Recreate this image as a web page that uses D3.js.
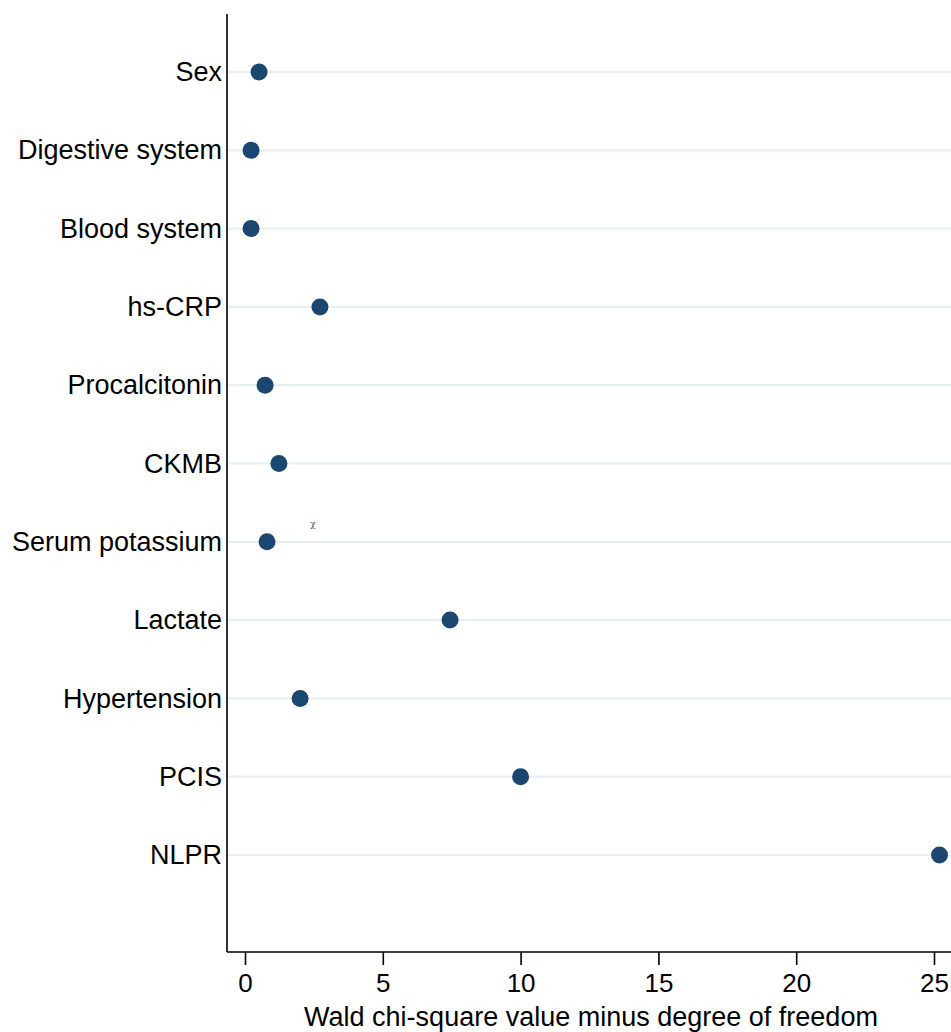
<!DOCTYPE html>
<html>
<head>
<meta charset="utf-8">
<script src="https://cdn.jsdelivr.net/npm/d3@7"></script>
<style>
  body { margin: 0; background: #fff; }
  svg { display: block; }
</style>
</head>
<body>
<div id="chart"></div>
<script>
const categories = [
  "Sex", "Digestive system", "Blood system", "hs-CRP", "Procalcitonin",
  "CKMB", "Serum potassium", "Lactate", "Hypertension", "PCIS", "NLPR"
];
const values = [0.51, 0.22, 0.22, 2.72, 0.73, 1.23, 0.8, 7.44, 2.0, 10.0, 25.2];
const xTicks = [0, 5, 10, 15, 20, 25];
const xTitle = "Wald chi-square value minus degree of freedom";

const W = 951, H = 1032;
const plotLeft = 227, plotTop = 14, plotBottom = 952;

const svg = d3.select("#chart").append("svg")
  .attr("width", W).attr("height", H);

const x = d3.scaleLinear().domain([0, 25]).range([245, 934]);
const y = d3.scalePoint().domain(categories).range([72, 855]);

// grid lines
svg.append("g").selectAll("line")
  .data(categories).enter().append("line")
  .attr("x1", plotLeft).attr("x2", W)
  .attr("y1", d => y(d)).attr("y2", d => y(d))
  .attr("stroke", "#e8f0f2").attr("stroke-width", 2.2);

// y axis
const yAxis = svg.append("g")
  .attr("transform", "translate(" + plotLeft + ",0)")
  .call(d3.axisLeft(y).tickSize(0).tickPadding(5));
yAxis.select(".domain").remove();
yAxis.append("line")
  .attr("x1", 0).attr("x2", 0).attr("y1", plotTop).attr("y2", plotBottom)
  .attr("stroke", "#000").attr("stroke-width", 1.6);
yAxis.selectAll("text")
  .attr("font-family", "Liberation Sans, Arial, sans-serif")
  .attr("font-size", 27).attr("fill", "#000");

// x axis
const xAxis = svg.append("g")
  .attr("transform", "translate(0," + plotBottom + ")")
  .call(d3.axisBottom(x).tickValues(xTicks).tickSize(13).tickPadding(9));
xAxis.select(".domain").remove();
xAxis.append("line")
  .attr("x1", plotLeft).attr("x2", W).attr("y1", 0).attr("y2", 0)
  .attr("stroke", "#000").attr("stroke-width", 1.6);
xAxis.selectAll(".tick line").attr("stroke", "#000").attr("stroke-width", 1.6);
xAxis.selectAll("text")
  .attr("font-family", "Liberation Sans, Arial, sans-serif")
  .attr("font-size", 26).attr("fill", "#000");

svg.append("text")
  .attr("x", 591).attr("y", 1026)
  .attr("text-anchor", "middle")
  .attr("font-family", "Liberation Sans, Arial, sans-serif")
  .attr("font-size", 27)
  .text(xTitle);

// stray chi symbol
svg.append("text")
  .attr("x", 313).attr("y", 527)
  .attr("text-anchor", "middle")
  .attr("font-family", "DejaVu Serif, serif")
  .attr("font-size", 9).attr("fill", "#555")
  .text("χ");

// points
svg.append("g").selectAll("circle")
  .data(categories).enter().append("circle")
  .attr("cx", (d, i) => x(values[i]))
  .attr("cy", d => y(d))
  .attr("r", 8.5)
  .attr("fill", "#1a476f");
</script>
</body>
</html>
